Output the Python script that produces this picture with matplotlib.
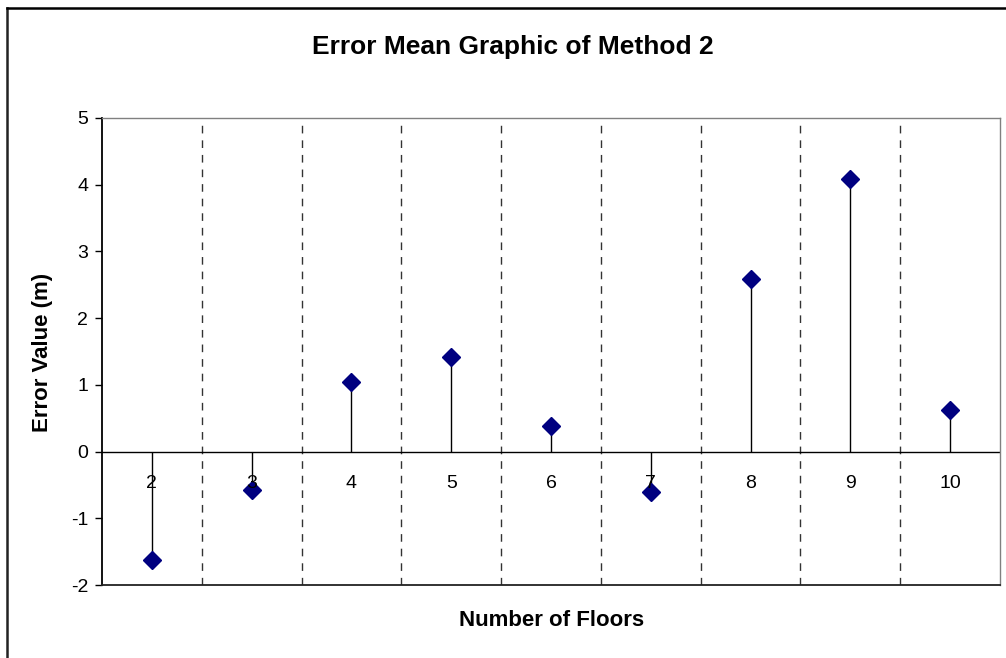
import numpy as np
import matplotlib.pyplot as plt
from matplotlib.lines import Line2D

plt.rcParams['font.family'] = ['Liberation Sans', 'DejaVu Sans']

# number of floors and mean error of method 2
floors = ['2', '3', '4', '5', '6', '7', '8', '9', '10']
error_mean = [-1.62, -0.57, 1.04, 1.42, 0.39, -0.60, 2.58, 4.08, 0.62]
y_ticks = [-2, -1, 0, 1, 2, 3, 4, 5]

W, H = 1006, 658
fig = plt.figure(figsize=(W / 100, H / 100), dpi=100)
ax = fig.add_axes([102 / W, (H - 585) / H, (1000 - 102) / W, (585 - 118) / H])

x = np.arange(len(floors))

# dashed separators between categories
for b in np.arange(0.5, len(floors) - 0.5, 1.0):
    ax.axvline(b, color='#333333', lw=1, linestyle=(0, (5.5, 5)), zorder=1)

# zero line, stems and diamonds
ax.axhline(0, color='black', lw=1, zorder=2)
ax.vlines(x, 0, error_mean, color='black', lw=1, zorder=3)
ax.plot(x, error_mean, linestyle='none', marker='D', ms=9,
        color='#000080', zorder=4)

# category labels sit under the zero line
for i, lab in enumerate(floors):
    ax.annotate(lab, (i, 0), xytext=(0, -23), textcoords='offset points',
                ha='center', va='center', fontsize=14, zorder=5)

ax.set_xlim(-0.5, len(floors) - 0.5)
ax.set_ylim(-2, 5)
ax.set_xticks([])
ax.set_yticks(y_ticks)
ax.set_yticklabels([str(v) for v in y_ticks], fontsize=14)
ax.tick_params(axis='y', direction='out', length=5, width=1, pad=5)

for s in ['top', 'right']:
    ax.spines[s].set_color('#808080')
    ax.spines[s].set_linewidth(1)
ax.spines['left'].set_color('black')
ax.spines['left'].set_linewidth(1.3)
ax.spines['bottom'].set_color('#222222')
ax.spines['bottom'].set_linewidth(1.3)

fig.text(513 / W, 1 - 47 / H, 'Error Mean Graphic of Method 2',
         ha='center', va='center', fontsize=19, fontweight='bold')
fig.text(552 / W, 1 - 621 / H, 'Number of Floors',
         ha='center', va='center', fontsize=16, fontweight='bold')
fig.text(43 / W, 1 - 352 / H, 'Error Value (m)', rotation=90,
         ha='center', va='center', fontsize=16, fontweight='bold')

# chart frame (left and top edges)
fig.add_artist(Line2D([7 / W, 7 / W], [0, 1 - 8 / H], color='#222222', lw=1.8))
fig.add_artist(Line2D([7 / W, 1], [1 - 8 / H, 1 - 8 / H], color='black', lw=1.8))

fig.savefig('out.png', dpi=100)
